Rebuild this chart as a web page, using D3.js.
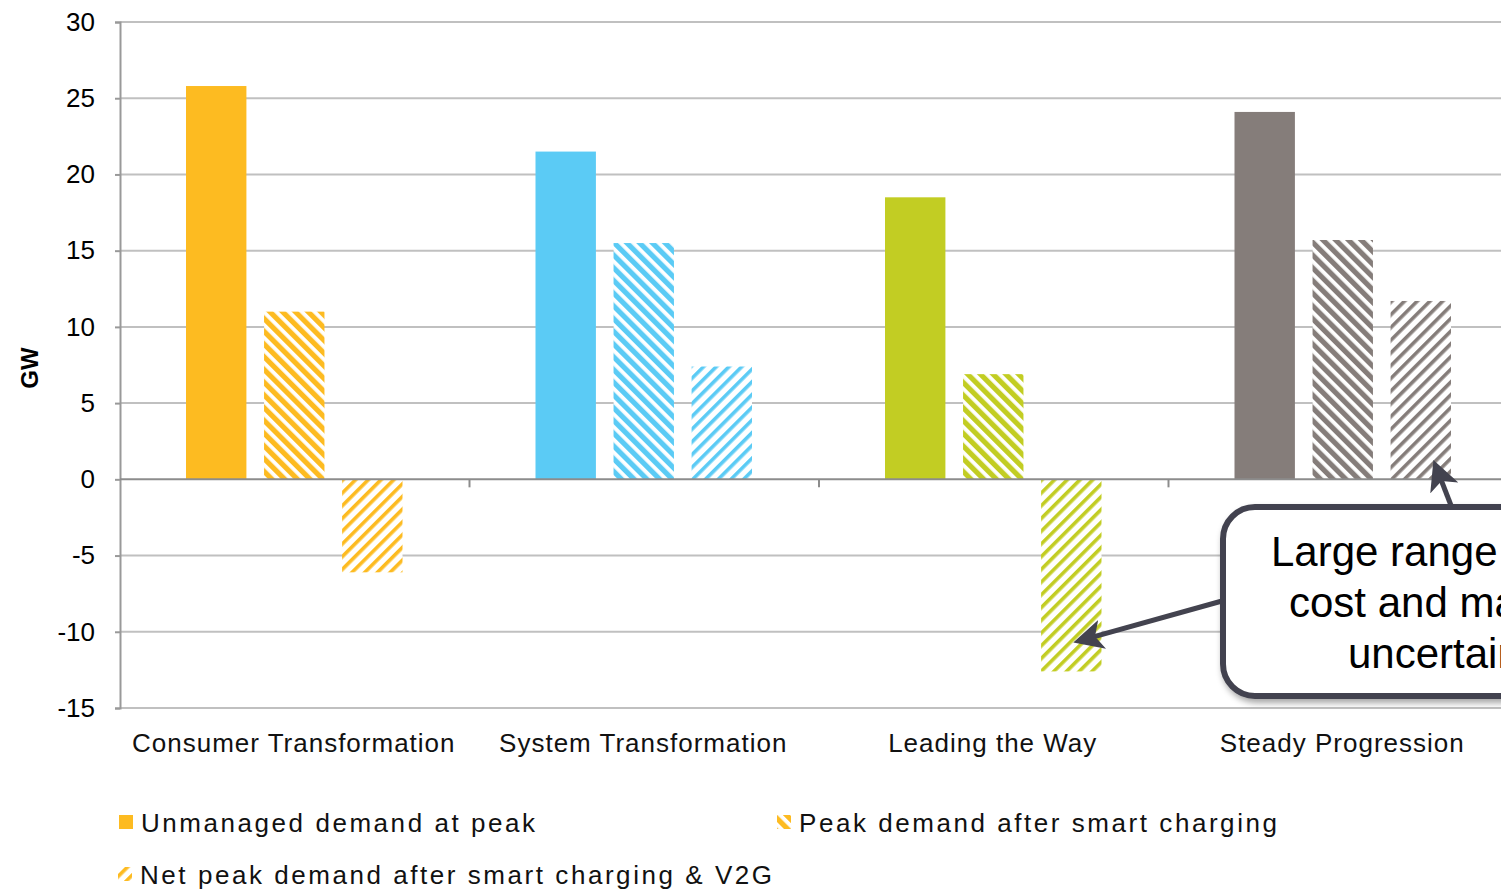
<!DOCTYPE html>
<html>
<head>
<meta charset="utf-8">
<script src="https://cdn.jsdelivr.net/npm/d3@7"></script>
<style>
  body { margin:0; background:#fff; }
  svg { display:block; font-family:"Liberation Sans", Arial, sans-serif; }
</style>
</head>
<body>
<script>
var categories = ["Consumer Transformation","System Transformation","Leading the Way","Steady Progression"];
var seriesNames = ["Unmanaged demand at peak","Peak demand after smart charging","Net peak demand after smart charging & V2G"];
var unmanaged = [25.8, 21.5, 18.5, 24.1];
var smartCharging = [11.0, 15.5, 6.9, 15.7];
var netV2G = [-6.1, 7.4, -12.6, 11.7];
var catColors = ["#FDBB21","#5BCBF5","#C2CD23","#857D7A"];
var yTicks = [30,25,20,15,10,5,0,-5,-10,-15];
var calloutLines = ["Large range of","cost and market","uncertainty"];

var width = 1501, height = 891;
var margin = {left:120, top:22};
var plotH = 686, step = 349.5;

var svg = d3.select("body").append("svg").attr("width",width).attr("height",height);
var defs = svg.append("defs");

// hatch patterns per category: "\" wide stripes and "/" thin stripes
catColors.forEach(function(c,i){
  var p1 = defs.append("pattern").attr("id","hatchA"+i).attr("patternUnits","userSpaceOnUse")
      .attr("width",9).attr("height",9).attr("patternTransform","rotate(-45)");
  p1.append("rect").attr("width",9).attr("height",9).attr("fill","#fff");
  p1.append("rect").attr("width",5.2).attr("height",9).attr("fill",c);
  var p2 = defs.append("pattern").attr("id","hatchB"+i).attr("patternUnits","userSpaceOnUse")
      .attr("width",9).attr("height",9).attr("patternTransform","rotate(45)");
  p2.append("rect").attr("width",9).attr("height",9).attr("fill","#fff");
  p2.append("rect").attr("width",3.6).attr("height",9).attr("fill",c);
});
var sh = defs.append("filter").attr("id","shadow").attr("x","-10%").attr("y","-10%").attr("width","130%").attr("height","130%");
sh.append("feDropShadow").attr("dx",2).attr("dy",4).attr("stdDeviation",3).attr("flood-color","#000").attr("flood-opacity",0.35);

var y = d3.scaleLinear().domain([-15,30]).range([margin.top+plotH, margin.top]);
var x0 = d3.scaleBand().domain(categories).range([margin.left, margin.left+step*categories.length]);
var x1 = d3.scaleBand().domain([0,1,2]).range([66, step-67]).paddingInner(0.226).paddingOuter(0);

// gridlines
svg.append("g").selectAll("line").data(yTicks.filter(function(d){return d!==0;})).enter().append("line")
  .attr("x1",margin.left).attr("x2",width).attr("y1",function(d){return y(d);}).attr("y2",function(d){return y(d);})
  .attr("stroke","#C0C0C0").attr("stroke-width",2);

// y axis
var yAxis = d3.axisLeft(y).tickValues(yTicks).tickSize(5).tickPadding(20)
  .tickFormat(function(d){return String(d);});
var ya = svg.append("g").attr("transform","translate("+margin.left+",0)").call(yAxis);
ya.select(".domain").attr("stroke","#999").attr("stroke-width",2);
ya.selectAll(".tick line").attr("stroke","#999").attr("stroke-width",2);
ya.selectAll("text").attr("font-size",26).attr("fill","#000").attr("font-family","Liberation Sans, Arial");

svg.append("text").attr("transform","translate(38,368) rotate(-90)").attr("text-anchor","middle")
  .attr("font-size",24).attr("font-weight","bold").text("GW");

// bars
var rows = categories.map(function(c,i){ return {cat:c, i:i, vals:[unmanaged[i], smartCharging[i], netV2G[i]]}; });
var groups = svg.append("g").selectAll("g").data(rows).enter().append("g")
  .attr("transform",function(d){return "translate("+x0(d.cat)+",0)";});
groups.selectAll("rect").data(function(d){return d.vals.map(function(v,k){return {v:v,k:k,i:d.i};});}).enter().append("rect")
  .attr("x",function(d){return x1(d.k);})
  .attr("width",x1.bandwidth())
  .attr("y",function(d){return y(Math.max(0,d.v));})
  .attr("height",function(d){return Math.abs(y(d.v)-y(0));})
  .attr("fill",function(d){
    if(d.k===0) return catColors[d.i];
    return d.k===1 ? "url(#hatchA"+d.i+")" : "url(#hatchB"+d.i+")";
  });

// zero axis with category ticks
svg.append("line").attr("x1",margin.left).attr("x2",width).attr("y1",y(0)).attr("y2",y(0))
  .attr("stroke","#8C8C8C").attr("stroke-width",2);
svg.append("g").selectAll("line").data(categories.slice(1)).enter().append("line")
  .attr("x1",function(d){return x0(d);}).attr("x2",function(d){return x0(d);})
  .attr("y1",y(0)).attr("y2",y(0)+8).attr("stroke","#8C8C8C").attr("stroke-width",2);

// category labels
svg.append("g").selectAll("text").data(categories).enter().append("text")
  .attr("x",function(d){return x0(d)+x0.bandwidth()/2 - 1;})
  .attr("y",752).attr("text-anchor","middle").attr("font-size",26).attr("letter-spacing",1)
  .attr("fill","#111").text(function(d){return d;});

// legend
var legendPos = [{x:119,y:822},{x:777,y:822},{x:118,y:874}];
var lg = svg.append("g").selectAll("g").data(seriesNames).enter().append("g")
  .attr("transform",function(d,k){return "translate("+legendPos[k].x+","+legendPos[k].y+")";});
lg.append("rect").attr("x",0).attr("y",-7).attr("width",14).attr("height",14)
  .attr("fill",function(d,k){return k===0 ? catColors[0] : (k===1 ? "url(#hatchA0)" : "url(#hatchB0)");});
lg.append("text").attr("x",22).attr("y",10).attr("font-size",26).attr("letter-spacing",2.55)
  .attr("fill","#111").text(function(d){return d;});

// callout with arrows
var arrowColor = "#43434F";
defs.append("marker").attr("id","arrowHead").attr("viewBox","0 0 10 10").attr("refX",8).attr("refY",5)
  .attr("markerWidth",6).attr("markerHeight",6).attr("markerUnits","strokeWidth").attr("orient","auto")
  .append("path").attr("d","M0,0 L10,5 L0,10 L2.5,5 Z").attr("fill",arrowColor);

var c = svg.append("g");
c.append("line").attr("x1",1222).attr("y1",601).attr("x2",x0(categories[2])+x1(2)+38).attr("y2",y(-10.6))
  .attr("stroke",arrowColor).attr("stroke-width",5).attr("marker-end","url(#arrowHead)");
c.append("line").attr("x1",1452).attr("y1",508).attr("x2",x0(categories[3])+x1(2)+45).attr("y2",y(0.9))
  .attr("stroke",arrowColor).attr("stroke-width",5).attr("marker-end","url(#arrowHead)");
c.append("rect").attr("x",1223).attr("y",507).attr("width",420).attr("height",189).attr("rx",32).attr("ry",32)
  .attr("fill","#fff").attr("stroke",arrowColor).attr("stroke-width",6).attr("filter","url(#shadow)");
var calloutX = [1271,1289,1348];
c.selectAll("text").data(calloutLines).enter().append("text")
  .attr("x",function(d,k){return calloutX[k];}).attr("y",function(d,k){return 566+k*51;})
  .attr("font-size",42).attr("fill","#000").text(function(d){return d;});
</script>
</body>
</html>
